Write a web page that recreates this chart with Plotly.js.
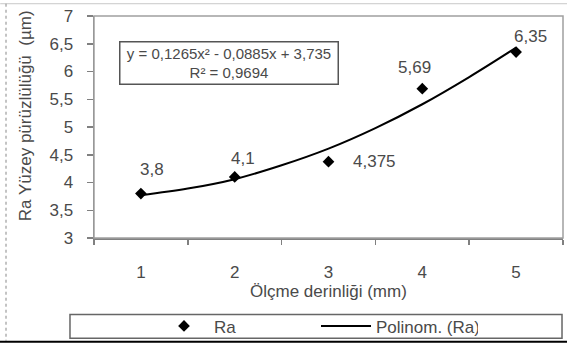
<!DOCTYPE html>
<html>
<head>
<meta charset="utf-8">
<script src="https://cdn.plot.ly/plotly-3.0.1.min.js"></script>
<style>
html,body{margin:0;padding:0;background:#fff;}
#chart{width:567px;height:349px;}
</style>
</head>
<body>
<div id="chart"></div>
<script>
// Data
const depths = [1, 2, 3, 4, 5];
const raValues = [3.8, 4.1, 4.375, 5.69, 6.35];
// Polynomial trendline
const trendX = [1, 1.5, 2, 2.5, 3, 3.5, 4, 4.5, 5];
const trendY = [3.77, 3.89, 4.06, 4.31, 4.61, 4.98, 5.41, 5.90, 6.43];
const seriesName = 'Ra';
const trendName = 'Polinom. (Ra)';
const equationText = 'y = 0,1265x² - 0,0885x + 3,735<br>R² = 0,9694';
const xTitle = 'Ölçme derinliği (mm)';
const yTitle = 'Ra Yüzey pürüzlülüğü  (µm)';

// Label offsets (px) – styling only
const labelShift = [[11, 24], [8, 18], [46, 0], [-8, 21], [14, 16]];

const FONT = '"Liberation Sans", Arial, sans-serif';
const TXT = '#4a4a4a';

const traces = [
  {
    x: depths, y: raValues, name: seriesName, type: 'scatter', mode: 'markers',
    marker: {symbol: 'diamond', size: 9, color: '#000'}
  },
  {
    x: trendX, y: trendY, name: trendName, type: 'scatter', mode: 'lines',
    line: {color: '#000', width: 2, shape: 'spline'}
  }
];

const annotations = depths.map((d, i) => ({
  x: d, y: raValues[i], xref: 'x', yref: 'y',
  text: String(raValues[i]).replace('.', ','),
  showarrow: false, xanchor: 'center', yanchor: 'middle',
  xshift: labelShift[i][0], yshift: labelShift[i][1],
  font: {family: FONT, size: 17, color: TXT}
}));

annotations.push({
  x: 0.2889, y: 0.7898, xref: 'paper', yref: 'paper',
  text: equationText, showarrow: false, xanchor: 'center', yanchor: 'middle',
  width: 213, height: 37, align: 'center',
  bordercolor: '#555', borderwidth: 1.5, borderpad: 2, bgcolor: '#fff',
  font: {family: FONT, size: 15, color: TXT}
});
annotations.push({
  x: 0.5, y: -0.243, xref: 'paper', yref: 'paper',
  text: xTitle, showarrow: false, xanchor: 'center', yanchor: 'middle',
  font: {family: FONT, size: 17, color: TXT}
});
annotations.push({
  x: -0.146, y: 0.551, xref: 'paper', yref: 'paper',
  text: yTitle, showarrow: false, xanchor: 'center', yanchor: 'middle',
  textangle: -90,
  font: {family: FONT, size: 17, color: TXT}
});

const shapes = [
  // plot area border
  {type: 'rect', xref: 'paper', yref: 'paper', x0: 0, x1: 1, y0: 0, y1: 1,
   line: {color: '#a0a0a0', width: 1.5}},
  // legend box
  {type: 'rect', xref: 'paper', yref: 'paper', x0: -0.0512, x1: 0.9979, y0: -0.3451, y1: -0.4513,
   line: {color: '#666', width: 1.5}},
  // outer frame: top, left dotted, bottom
  {type: 'line', xref: 'paper', yref: 'paper', x0: -0.20, x1: 1.01, y0: 1.0553, y1: 1.0553,
   line: {color: '#c8c8c8', width: 1}},
  {type: 'line', xref: 'paper', yref: 'paper', x0: -0.1876, x1: -0.1876, y0: 1.0553, y1: -0.462,
   line: {color: '#888', width: 1, dash: 'dot'}},
  {type: 'line', xref: 'paper', yref: 'paper', x0: -0.21, x1: 1.01, y0: -0.4668, y1: -0.4668,
   line: {color: '#000', width: 2}}
];

const layout = {
  width: 567, height: 349,
  margin: {l: 94, r: 4, t: 16, b: 107},
  paper_bgcolor: '#fff', plot_bgcolor: '#fff',
  separators: ',.',
  font: {family: FONT, size: 17, color: TXT},
  showlegend: true,
  legend: {
    orientation: 'h', x: (154 - 94) / 469, xanchor: 'left',
    y: (242 - 332) / 226, yanchor: 'middle',
    itemwidth: 50,
    entrywidth: 97, entrywidthmode: 'pixels',
    borderwidth: 0, bgcolor: 'rgba(0,0,0,0)',
    font: {family: FONT, size: 17, color: TXT}
  },
  xaxis: {
    range: [0.5, 5.5], tickvals: depths, ticktext: depths.map(String),
    ticks: '', showgrid: false, zeroline: false,
    showline: true, linecolor: '#808080', linewidth: 1.5,
    minor: {tick0: 0.5, dtick: 1, ticks: 'outside', ticklen: 5, tickcolor: '#808080', tickwidth: 1.5, showgrid: false},
    ticklabelstandoff: 18,
    tickfont: {family: FONT, size: 17, color: TXT}
  },
  yaxis: {
    range: [3, 7], dtick: 0.5, tick0: 3,
    ticks: 'outside', ticklen: 6, tickcolor: '#808080', tickwidth: 1.5,
    showgrid: false, zeroline: false,
    showline: true, linecolor: '#808080', linewidth: 1.5,
    ticklabelstandoff: 10,
    tickfont: {family: FONT, size: 17, color: TXT}
  },
  annotations: annotations,
  shapes: shapes
};

Plotly.newPlot('chart', traces, layout, {displayModeBar: false, staticPlot: true});
</script>
</body>
</html>
